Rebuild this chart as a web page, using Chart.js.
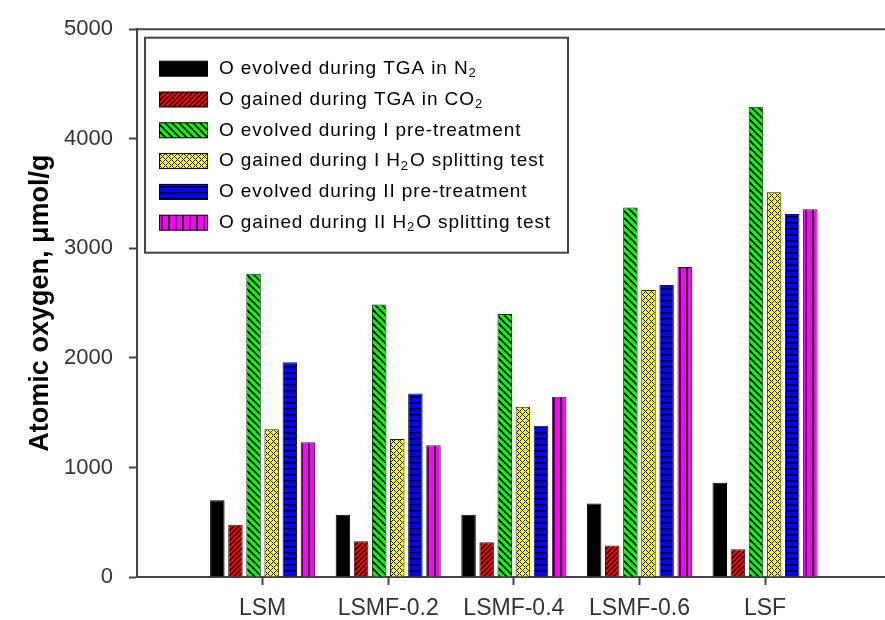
<!DOCTYPE html>
<html>
<head>
<meta charset="utf-8">
<script src="https://cdn.jsdelivr.net/npm/chart.js@4.4.1/dist/chart.umd.min.js"></script>
<style>
    html, body { margin: 0; padding: 0; background: #fff; }
    #wrap { width: 885px; height: 620px; position: relative; }
</style>
</head>
<body>
<div id="wrap"><canvas id="myChart"></canvas></div>
<script>
const categorias = ['LSM', 'LSMF-0.2', 'LSMF-0.4', 'LSMF-0.6', 'LSF']
const yTicks = [0, 1000, 2000, 3000, 4000, 5000]
const etiquetas = [
    'O evolved during TGA in N₂',
    'O gained during TGA in CO₂',
    'O evolved during I pre-treatment',
    'O gained during I H₂O splitting test',
    'O evolved during II pre-treatment',
    'O gained during II H₂O splitting test'
]

const evolvedN2 = [701, 568, 568, 670, 860]
const gainedCO2 = [477, 326, 317, 287, 254]
const evolvedI = [2768, 2487, 2400, 3372, 4292]
const gainedI = [1349, 1259, 1555, 2620, 3511]
const evolvedII = [1960, 1675, 1380, 2666, 3314]
const gainedII = [1231, 1202, 1645, 2829, 3357]

const ctx = document.getElementById('myChart')
const g2d = ctx.getContext('2d')

function patron(fondo, w, h, dibujo) {
    const c = document.createElement('canvas')
    c.width = w
    c.height = h
    const g = c.getContext('2d')
    g.fillStyle = fondo
    g.fillRect(0, 0, w, h)
    g.strokeStyle = '#000'
    g.fillStyle = '#000'
    if (dibujo) dibujo(g, w, h)
    return g2d.createPattern(c, 'repeat')
}

function linea(g, x1, y1, x2, y2) {
    g.beginPath()
    g.moveTo(x1, y1)
    g.lineTo(x2, y2)
    g.stroke()
}

const rellenos = [
    '#000000',
    patron('#ff0000', 5, 5, (g, w, h) => {
        g.lineWidth = 1.3
        linea(g, -1, h + 1, w + 1, -1)
        linea(g, -1, 1, 1, -1)
        linea(g, w - 1, h + 1, w + 1, h - 1)
    }),
    patron('#00ff00', 7, 7, (g, w, h) => {
        g.lineWidth = 1.8
        linea(g, -1, -1, w + 1, h + 1)
        linea(g, -1, h - 1, 1, h + 1)
        linea(g, w - 1, -1, w + 1, 1)
    }),
    patron('#ffff00', 6, 6, (g, w, h) => {
        // malla diagonal pixel a pixel
        for (let x = 0; x < w; x++) {
            for (let y = 0; y < h; y++) {
                if ((x + y) % 6 === 0 || (x - y + 6) % 6 === 0) g.fillRect(x, y, 1, 1)
            }
        }
    }),
    patron('#0000ff', 6, 6, (g, w, h) => {
        g.fillRect(0, 0, w, 1.5)
    }),
    patron('#ff00ff', 7, 7, (g, w, h) => {
        g.fillRect(0, 0, 1.6, h)
    })
]

const series = [evolvedN2, gainedCO2, evolvedI, gainedI, evolvedII, gainedII]

function puntos(valores) {
    return valores.map((v, i) => ({ x: i + 1, y: v }))
}

function textoSub(c, texto, x, y) {
    const partes = texto.split('₂')
    let cx = x
    partes.forEach((p, i) => {
        c.font = '19px "Liberation Sans", Arial, sans-serif'
        c.fillText(p, cx, y)
        cx += c.measureText(p).width
        if (i < partes.length - 1) {
            c.font = '13px "Liberation Sans", Arial, sans-serif'
            c.fillText('2', cx, y + 5)
            cx += c.measureText('2').width + 1
        }
    })
}

const marcoLeyenda = {
    id: 'marcoLeyenda',
    afterDraw(chart) {
        const c = chart.ctx
        const a = chart.chartArea
        c.save()
        // linea superior del marco
        c.strokeStyle = '#444'
        c.lineWidth = 2
        linea(c, a.left, a.top, a.right, a.top)

        const x0 = a.left + 8
        const y0 = a.top + 8.5
        c.fillStyle = '#fff'
        c.fillRect(x0, y0, 423, 215)
        c.strokeRect(x0, y0, 423, 215)

        c.textBaseline = 'middle'
        c.letterSpacing = '0.9px'
        chart.data.datasets.forEach((ds, i) => {
            const cy = y0 + 31 + i * 30.8
            c.fillStyle = ds.backgroundColor
            c.fillRect(x0 + 14, cy - 7.5, 49, 15)
            c.strokeStyle = '#000'
            c.lineWidth = 1
            c.strokeRect(x0 + 14.5, cy - 7.5, 48, 15)
            c.fillStyle = '#000'
            textoSub(c, ds.label, x0 + 74, cy)
        })
        c.restore()
    }
}

const fuente = '"Liberation Sans", Arial, sans-serif'

new Chart(ctx, {
    type: 'bar',
    data: {
        datasets: series.map((s, i) => ({
            label: etiquetas[i],
            data: puntos(s),
            backgroundColor: rellenos[i],
            borderColor: i === 0 ? '#000' : '#222',
            borderWidth: 1,
            categoryPercentage: 0.865,
            barPercentage: 0.8
        }))
    },
    options: {
        responsive: true,
        maintainAspectRatio: false,
        animation: false,
        devicePixelRatio: 1,
        layout: { padding: { top: 24.5, right: 0, left: 0, bottom: 0 } },
        plugins: {
            legend: { display: false },
            tooltip: { enabled: false }
        },
        scales: {
            x: {
                type: 'linear',
                min: 0,
                max: 5.955,
                offset: false,
                afterFit: s => { s.height = 43 },
                afterBuildTicks: s => { s.ticks = categorias.map((c, i) => ({ value: i + 1 })) },
                ticks: {
                    callback: v => categorias[v - 1],
                    color: '#333',
                    autoSkip: false,
                    maxRotation: 0,
                    padding: 10,
                    font: { family: fuente, size: 23 }
                },
                grid: {
                    offset: false,
                    drawOnChartArea: false,
                    tickLength: 8,
                    tickColor: '#444',
                    tickWidth: 2
                },
                border: { color: '#444', width: 2 }
            },
            y: {
                min: 0,
                max: 5000,
                afterFit: s => { s.width = 137 },
                afterBuildTicks: s => { s.ticks = yTicks.map(v => ({ value: v })) },
                ticks: {
                    callback: v => String(v),
                    color: '#333',
                    padding: 16,
                    font: { family: fuente, size: 22 }
                },
                grid: {
                    drawOnChartArea: false,
                    tickLength: 8,
                    tickColor: '#444',
                    tickWidth: 2
                },
                border: { color: '#444', width: 2 },
                title: {
                    display: true,
                    text: 'Atomic oxygen, μmol/g',
                    color: '#000',
                    padding: { top: 24, bottom: 0 },
                    font: { family: fuente, size: 27, weight: 'bold' }
                }
            }
        }
    },
    plugins: [marcoLeyenda]
})
</script>
</body>
</html>
